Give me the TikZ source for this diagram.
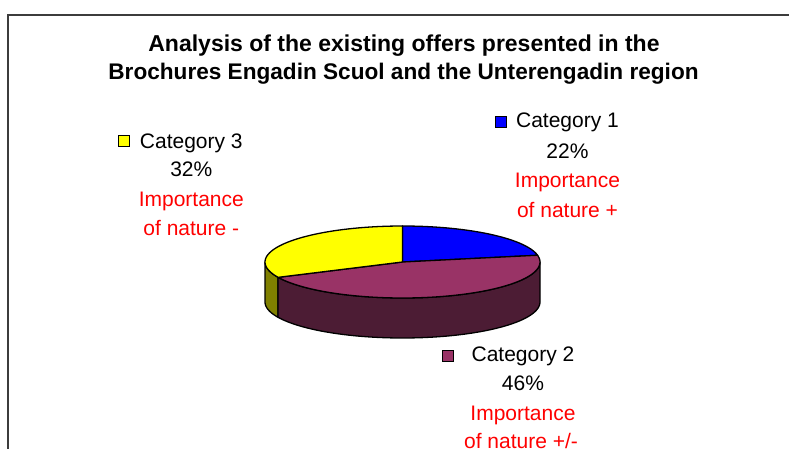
\documentclass[tikz,border=0pt]{standalone}
\usepackage{fontspec}
\setmainfont{Liberation Sans}
\definecolor{cblue}{RGB}{0,0,255}
\definecolor{cmag}{RGB}{153,51,102}
\definecolor{cyel}{RGB}{255,255,0}
\definecolor{cmagdark}{RGB}{76,28,52}
\definecolor{cyeldark}{RGB}{128,128,0}
\definecolor{frame}{RGB}{60,60,60}
\begin{document}
\begin{tikzpicture}[x=1pt,y=-1pt,
  slice/.style={draw=black, line width=1.3pt, line join=round},
  titletext/.style={font=\fontsize{23}{28}\selectfont\bfseries, anchor=base, inner sep=0pt},
  cattext/.style={font=\fontsize{21}{29}\selectfont, anchor=base, inner sep=0pt},
  imptext/.style={font=\fontsize{21}{29}\selectfont, anchor=base, inner sep=0pt, text=red},
  legendbox/.style={draw=black, line width=1pt, minimum width=11pt, minimum height=11pt, inner sep=0pt}]
\useasboundingbox (0,0) rectangle (789,449);
\draw[frame, line width=2pt] (7.5,449) -- (7.5,15) -- (789,15);
% title
\node[titletext] (t1) at (404,52) {Analysis of the existing offers presented in the};
\node[titletext, font=\fontsize{22.6}{28}\selectfont\bfseries] (t2) at (403.5,80) {Brochures Engadin Scuol and the Unterengadin region};
% pie
\def\cx{402.5}\def\cy{262}\def\rx{137.5}\def\ry{36}\def\dp{40}
\filldraw[slice, fill=cyeldark] plot[domain=180:205.2, samples=12] ({\cx+\rx*cos(\x)},{\cy-\ry*sin(\x)})
  -- plot[domain=205.2:180, samples=12] ({\cx+\rx*cos(\x)},{\cy+\dp-\ry*sin(\x)}) -- cycle;
\filldraw[slice, fill=cmagdark] plot[domain=205.2:360, samples=60] ({\cx+\rx*cos(\x)},{\cy-\ry*sin(\x)})
  -- plot[domain=360:205.2, samples=60] ({\cx+\rx*cos(\x)},{\cy+\dp-\ry*sin(\x)}) -- cycle;
\filldraw[slice, fill=cblue] (\cx,\cy) -- plot[domain=10.8:90, samples=40] ({\cx+\rx*cos(\x)},{\cy-\ry*sin(\x)}) -- cycle;
\filldraw[slice, fill=cmag] (\cx,\cy) -- plot[domain=-154.8:10.8, samples=80] ({\cx+\rx*cos(\x)},{\cy-\ry*sin(\x)}) -- cycle;
\filldraw[slice, fill=cyel] (\cx,\cy) -- plot[domain=90:205.2, samples=50] ({\cx+\rx*cos(\x)},{\cy-\ry*sin(\x)}) -- cycle;
% category 3
\node[legendbox, fill=cyel] (b3) at (124,141.5) {};
\node[cattext] (c3) at (191.3,148.3) {Category 3};
\node[cattext] (p3) at (191.3,177) {32\%};
\node[imptext] (i3a) at (191.3,206) {Importance};
\node[imptext] (i3b) at (191.3,235.5) {of nature -};
% category 1
\node[legendbox, fill=cblue] (b1) at (501,122.5) {};
\node[cattext] (c1) at (567.5,128) {Category 1};
\node[cattext] (p1) at (567.5,158.3) {22\%};
\node[imptext] (i1a) at (567.5,188) {Importance};
\node[imptext] (i1b) at (567.5,217.5) {of nature +};
% category 2
\node[legendbox, fill=cmag] (b2) at (447.5,356) {};
\node[cattext] (c2) at (523,361) {Category 2};
\node[cattext] (p2) at (523,390) {46\%};
\node[imptext] (i2a) at (523,420) {Importance};
\node[imptext] (i2b) at (521,448.5) {of nature +/-};
\end{tikzpicture}
\end{document}
